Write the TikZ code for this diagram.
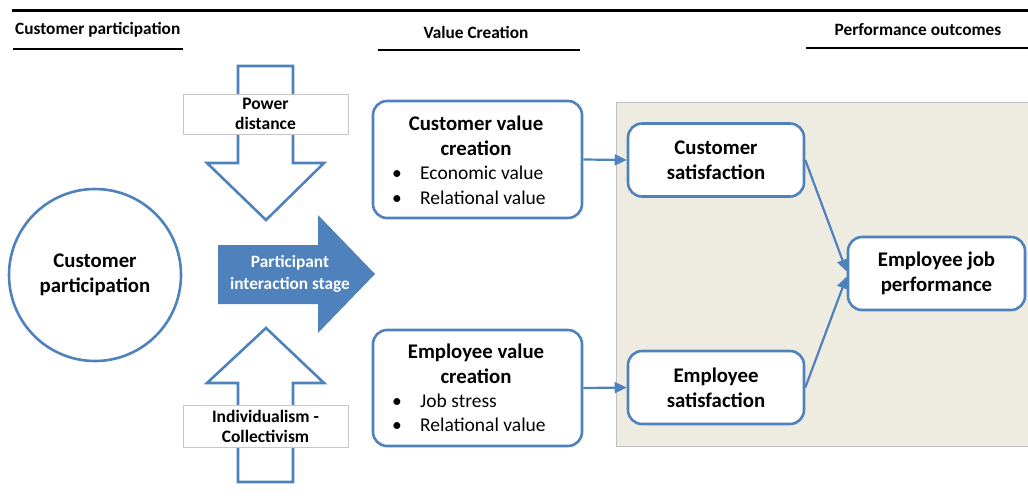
\documentclass[tikz,border=0pt]{standalone}
\usepackage{fontspec}
\setmainfont{Carlito}
\usetikzlibrary{arrows.meta}
\definecolor{cpblue}{RGB}{79,129,189}
\definecolor{cpback}{RGB}{238,236,225}
\tikzset{
  box/.style={draw=cpblue, line width=2.6pt, rounded corners=14pt, fill=white},
  tagbox/.style={draw=black!22, line width=0.8pt, fill=white, align=center, inner sep=0pt,
    font=\fontsize{17.5}{20}\selectfont\bfseries},
  head/.style={font=\fontsize{17.3}{20}\selectfont\bfseries, inner sep=0pt},
  title/.style={align=center, inner sep=0pt, font=\fontsize{20.8}{25}\selectfont\bfseries},
  item/.style={anchor=west, inner sep=0pt, font=\fontsize{19.5}{24}\selectfont},
  link/.style={cpblue, line width=2.2pt, -{Triangle[length=12pt,width=11pt]}},
  hollow/.style={draw=cpblue, line width=2.6pt, line join=miter}
}
\begin{document}
\begin{tikzpicture}[x=1pt,y=-1pt]
\useasboundingbox (0,0) rectangle (1028,499);
\draw[line width=3pt] (12,10) -- (1028,10) ;
\node[head, anchor=west] (hcp) at (15,30) {Customer participation} ;
\draw[line width=2.5pt] (13,49) -- (183,49) ;
\node[head] (hvc) at (476,32) {Value Creation} ;
\draw[line width=2.5pt] (378,50) -- (580,50) ;
\node[head] (hpo) at (918,30) {Performance outcomes} ;
\draw[line width=2.5pt] (806,48) -- (1028,48) ;

\draw[draw=black!25, line width=1pt, fill=cpback] (616,102) rectangle (1032,446) ;

\node[draw=cpblue, line width=2.6pt, circle, minimum size=172pt, title] (cpcircle) at (95,275) {Customer\\participation} ;

\draw[hollow] (238,66) -- (293,66) -- (293,163) -- (324,163) -- (266,220) -- (207,163) -- (238,163) -- cycle ;
\draw[hollow] (266,328) -- (324,383) -- (293,383) -- (293,482) -- (238,482) -- (238,383) -- (207,383) -- cycle ;
\node[tagbox, minimum width=165pt, minimum height=40pt] (powerd) at (265.5,114) {Power\\distance} ;
\node[tagbox, minimum width=165pt, minimum height=42pt] (indcol) at (265.5,426) {Individualism -\\Collectivism} ;

\fill[cpblue] (218,245) -- (318,245) -- (318,215) -- (375,274) -- (318,333) -- (318,304) -- (218,304) -- cycle ;
\node[align=center, text=white, inner sep=0pt, font=\fontsize{17.3}{22}\selectfont\bfseries] (stage) at (290,274) {Participant\\interaction stage} ;

\node[box, minimum width=209pt, minimum height=117pt] (cvbox) at (477.5,159.5) {} ;
\node[title] (cvtitle) at (476,136) {Customer value\\creation} ;
\node[item] (cvb1) at (392,173) {\makebox[28pt][l]{\textbullet}Economic value} ;
\node[item] (cvb2) at (392,198) {\makebox[28pt][l]{\textbullet}Relational value} ;

\node[box, minimum width=209pt, minimum height=116pt] (evbox) at (477.5,388) {} ;
\node[title] (evtitle) at (476,364) {Employee value\\creation} ;
\node[item] (evb1) at (392,401) {\makebox[28pt][l]{\textbullet}Job stress} ;
\node[item] (evb2) at (392,425) {\makebox[28pt][l]{\textbullet}Relational value} ;

\node[box, minimum width=176pt, minimum height=73pt, title] (cssat) at (716,160) {Customer\\satisfaction} ;
\node[box, minimum width=176pt, minimum height=73pt, title] (essat) at (716,387.5) {Employee\\satisfaction} ;
\node[box, minimum width=177pt, minimum height=73pt, title] (jobperf) at (936.5,273.5) {Employee job\\performance} ;

\draw[link] (cvbox.east) -- (cssat.west) ;
\draw[link] (evbox.east) -- (essat.west) ;
\draw[link] (cssat.east) -- ([yshift=2pt]jobperf.west) ;
\draw[link] (essat.east) -- ([yshift=-3pt]jobperf.west) ;
\end{tikzpicture}
\end{document}
